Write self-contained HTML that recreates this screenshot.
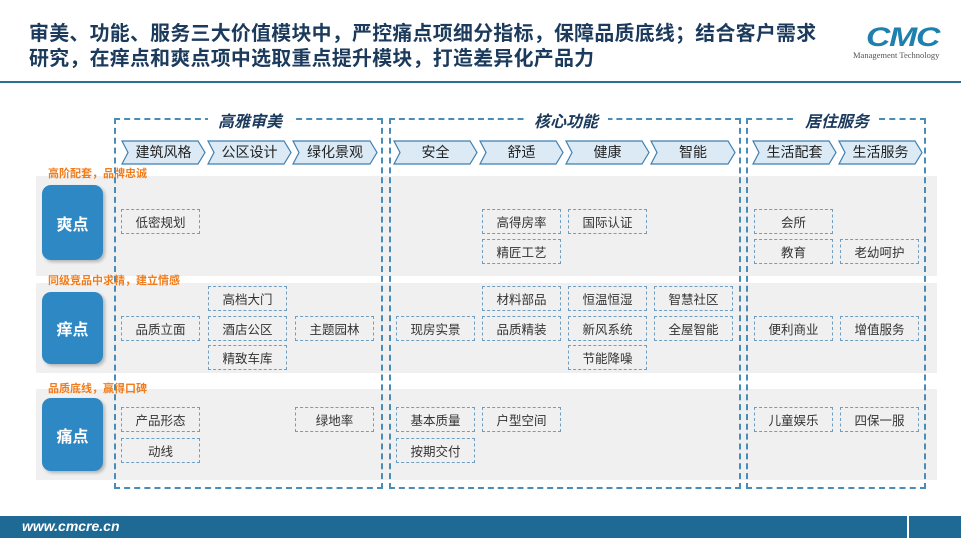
<!DOCTYPE html>
<html><head><meta charset="utf-8"><style>
*{margin:0;padding:0;box-sizing:border-box}
body{width:961px;height:538px;position:relative;overflow:hidden;background:#fff;font-family:"Liberation Sans","Noto Sans CJK SC",sans-serif}
.a{position:absolute}
.t{left:29px;font-size:19.9px;font-weight:bold;color:#1b3a5c;letter-spacing:0.3px;white-space:nowrap}
.band{position:absolute;left:36px;width:901px;background:#f0f0f0}
.side{position:absolute;left:42px;width:61px;background:#2e88c4;border-radius:9px;color:#fff;font-weight:bold;font-size:16px;display:flex;align-items:center;justify-content:center;box-shadow:2px 2px 3px rgba(0,0,0,.25)}
.or{position:absolute;left:48px;font-size:11px;font-weight:bold;color:#f07c1c;white-space:nowrap}
.grp{position:absolute;top:118px;height:371px;border:2px dashed #4a8cb8}
.gt{position:absolute;top:108px;background:#fff;padding:0 10px;font-size:16px;font-weight:bold;font-style:italic;color:#1b3a5c;white-space:nowrap}
.it{position:absolute;width:79px;height:25px;border:1.3px dashed #6e9fc2;font-size:12.5px;color:#333;display:flex;align-items:center;justify-content:center}
.ch{position:absolute;top:140px;height:25px;font-size:14px;color:#222}
.ch svg{position:absolute;left:0;top:0}
.ch span{position:relative;display:block;text-align:center;line-height:25px}
</style></head><body>
<div class="a t" style="top:17px">审美、功能、服务三大价值模块中，严控痛点项细分指标，保障品质底线；结合客户需求</div>
<div class="a t" style="top:42px">研究，在痒点和爽点项中选取重点提升模块，打造差异化产品力</div>
<div class="a" style="left:866px;top:22px;font-size:27px;font-weight:900;font-style:italic;color:#1f7fae;letter-spacing:-1px;transform:scaleX(1.25);transform-origin:left">CMC</div>
<div class="a" style="left:853px;top:50px;font-size:8.5px;color:#555;font-family:'Liberation Serif',serif;white-space:nowrap">Management Technology</div>
<div class="a" style="left:0;top:81px;width:961px;height:2px;background:#2a6f96"></div>

<div class="band" style="top:176px;height:100px"></div>
<div class="band" style="top:283px;height:90px"></div>
<div class="band" style="top:389px;height:91px"></div>

<div class="or" style="top:165px">高阶配套，品牌忠诚</div>
<div class="or" style="top:272px">同级竞品中求精，建立情感</div>
<div class="or" style="top:380px">品质底线，赢得口碑</div>

<div class="side" style="top:185px;height:75px">爽点</div>
<div class="side" style="top:292px;height:72px">痒点</div>
<div class="side" style="top:398px;height:73px">痛点</div>

<div class="grp" style="left:114px;width:269px"></div>
<div class="grp" style="left:389px;width:352px"></div>
<div class="grp" style="left:746px;width:180px"></div>
<div class="gt" style="left:208px">高雅审美</div>
<div class="gt" style="left:524px">核心功能</div>
<div class="gt" style="left:795px">居住服务</div>

<div class="ch" style="left:121px;width:85px"><svg width="85" height="25"><polygon points="1,1 77,1 84,12.5 77,24 1,24 7,12.5" fill="#dbeaf5" stroke="#3f7fb0" stroke-width="1.2"/></svg><span>建筑风格</span></div>
<div class="ch" style="left:207px;width:85px"><svg width="85" height="25"><polygon points="1,1 77,1 84,12.5 77,24 1,24 7,12.5" fill="#dbeaf5" stroke="#3f7fb0" stroke-width="1.2"/></svg><span>公区设计</span></div>
<div class="ch" style="left:292px;width:86px"><svg width="86" height="25"><polygon points="1,1 78,1 85,12.5 78,24 1,24 7,12.5" fill="#dbeaf5" stroke="#3f7fb0" stroke-width="1.2"/></svg><span>绿化景观</span></div>
<div class="ch" style="left:393px;width:85px"><svg width="85" height="25"><polygon points="1,1 77,1 84,12.5 77,24 1,24 7,12.5" fill="#dbeaf5" stroke="#3f7fb0" stroke-width="1.2"/></svg><span>安全</span></div>
<div class="ch" style="left:479px;width:85px"><svg width="85" height="25"><polygon points="1,1 77,1 84,12.5 77,24 1,24 7,12.5" fill="#dbeaf5" stroke="#3f7fb0" stroke-width="1.2"/></svg><span>舒适</span></div>
<div class="ch" style="left:565px;width:85px"><svg width="85" height="25"><polygon points="1,1 77,1 84,12.5 77,24 1,24 7,12.5" fill="#dbeaf5" stroke="#3f7fb0" stroke-width="1.2"/></svg><span>健康</span></div>
<div class="ch" style="left:650px;width:86px"><svg width="86" height="25"><polygon points="1,1 78,1 85,12.5 78,24 1,24 7,12.5" fill="#dbeaf5" stroke="#3f7fb0" stroke-width="1.2"/></svg><span>智能</span></div>
<div class="ch" style="left:752px;width:85px"><svg width="85" height="25"><polygon points="1,1 77,1 84,12.5 77,24 1,24 7,12.5" fill="#dbeaf5" stroke="#3f7fb0" stroke-width="1.2"/></svg><span>生活配套</span></div>
<div class="ch" style="left:838px;width:85px"><svg width="85" height="25"><polygon points="1,1 77,1 84,12.5 77,24 1,24 7,12.5" fill="#dbeaf5" stroke="#3f7fb0" stroke-width="1.2"/></svg><span>生活服务</span></div>

<div class="it" style="left:121px;top:209px">低密规划</div>
<div class="it" style="left:482px;top:209px">高得房率</div>
<div class="it" style="left:568px;top:209px">国际认证</div>
<div class="it" style="left:482px;top:239px">精匠工艺</div>
<div class="it" style="left:754px;top:209px">会所</div>
<div class="it" style="left:754px;top:239px">教育</div>
<div class="it" style="left:840px;top:239px">老幼呵护</div>
<div class="it" style="left:208px;top:286px">高档大门</div>
<div class="it" style="left:121px;top:316px">品质立面</div>
<div class="it" style="left:208px;top:316px">酒店公区</div>
<div class="it" style="left:295px;top:316px">主题园林</div>
<div class="it" style="left:208px;top:345px">精致车库</div>
<div class="it" style="left:396px;top:316px">现房实景</div>
<div class="it" style="left:482px;top:286px">材料部品</div>
<div class="it" style="left:568px;top:286px">恒温恒湿</div>
<div class="it" style="left:654px;top:286px">智慧社区</div>
<div class="it" style="left:482px;top:316px">品质精装</div>
<div class="it" style="left:568px;top:316px">新风系统</div>
<div class="it" style="left:654px;top:316px">全屋智能</div>
<div class="it" style="left:568px;top:345px">节能降噪</div>
<div class="it" style="left:754px;top:316px">便利商业</div>
<div class="it" style="left:840px;top:316px">增值服务</div>
<div class="it" style="left:121px;top:407px">产品形态</div>
<div class="it" style="left:121px;top:438px">动线</div>
<div class="it" style="left:295px;top:407px">绿地率</div>
<div class="it" style="left:396px;top:407px">基本质量</div>
<div class="it" style="left:482px;top:407px">户型空间</div>
<div class="it" style="left:396px;top:438px">按期交付</div>
<div class="it" style="left:754px;top:407px">儿童娱乐</div>
<div class="it" style="left:840px;top:407px">四保一服</div>

<div class="a" style="left:0;top:516px;width:961px;height:22px;background:#1e6a95"></div>
<div class="a" style="left:907px;top:516px;width:2px;height:22px;background:#fff"></div>
<div class="a" style="left:22px;top:518px;font-size:14px;font-weight:bold;font-style:italic;color:#fff">www.cmcre.cn</div>
</body></html>
